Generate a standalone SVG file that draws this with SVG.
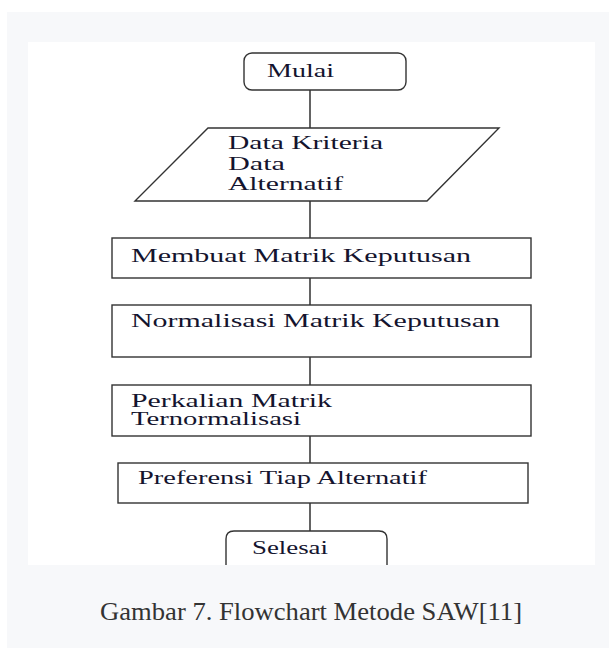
<svg xmlns="http://www.w3.org/2000/svg" width="609" height="648" viewBox="0 0 609 648">
<style>
.shape{fill:#ffffff;stroke:#333333;stroke-width:1.4}
.conn{stroke:#222222;stroke-width:1.4;fill:none}
.lbl{font-family:"Liberation Serif","Times New Roman",serif;font-size:18px;fill:#14142e}
.cap{font-family:"Liberation Serif","Times New Roman",serif;font-size:25px;fill:#333333}
</style>
<rect x="0" y="0" width="609" height="648" fill="#ffffff"/>
<rect x="7" y="12" width="602" height="636" fill="#f7f8fa"/>
<rect x="28" y="42" width="567" height="523" fill="#ffffff"/>
<g id="connectors">
<line class="conn" x1="310" y1="90" x2="310" y2="128"/>
<line class="conn" x1="310" y1="201" x2="310" y2="238"/>
<line class="conn" x1="310" y1="278" x2="310" y2="305"/>
<line class="conn" x1="310" y1="357" x2="310" y2="385"/>
<line class="conn" x1="310" y1="436" x2="310" y2="463"/>
<line class="conn" x1="310" y1="503" x2="310" y2="531"/>
</g>
<g id="mulai">
<rect class="shape" x="244" y="53" width="162" height="37" rx="8"/>
<text class="lbl" x="267" y="77" textLength="67" lengthAdjust="spacingAndGlyphs">Mulai</text>
</g>
<g id="data">
<polygon class="shape" points="208,128 499,128 427,201 135,201"/>
<text class="lbl" x="228" y="149" textLength="155" lengthAdjust="spacingAndGlyphs">Data Kriteria</text>
<text class="lbl" x="228" y="170" textLength="57" lengthAdjust="spacingAndGlyphs">Data</text>
<text class="lbl" x="228" y="190" textLength="115" lengthAdjust="spacingAndGlyphs">Alternatif</text>
</g>
<g id="membuat">
<rect class="shape" x="112" y="238" width="419" height="40"/>
<text class="lbl" x="131" y="262" textLength="340" lengthAdjust="spacingAndGlyphs">Membuat Matrik Keputusan</text>
</g>
<g id="normalisasi">
<rect class="shape" x="112" y="305" width="419" height="52"/>
<text class="lbl" x="131" y="327" textLength="369" lengthAdjust="spacingAndGlyphs">Normalisasi Matrik Keputusan</text>
</g>
<g id="perkalian">
<rect class="shape" x="112" y="385" width="419" height="51"/>
<text class="lbl" x="131" y="407" textLength="201" lengthAdjust="spacingAndGlyphs">Perkalian Matrik</text>
<text class="lbl" x="131" y="425" textLength="170" lengthAdjust="spacingAndGlyphs">Ternormalisasi</text>
</g>
<g id="preferensi">
<rect class="shape" x="118" y="463" width="410" height="40"/>
<text class="lbl" x="138" y="484" textLength="289" lengthAdjust="spacingAndGlyphs">Preferensi Tiap Alternatif</text>
</g>
<g id="selesai">
<path class="shape" d="M226,565 V539 Q226,531 234,531 H379 Q387,531 387,539 V565"/>
<text class="lbl" x="252" y="554" textLength="76" lengthAdjust="spacingAndGlyphs">Selesai</text>
</g>
<text class="cap" x="100" y="620" textLength="422" lengthAdjust="spacingAndGlyphs">Gambar 7. Flowchart Metode SAW[11]</text>
</svg>
